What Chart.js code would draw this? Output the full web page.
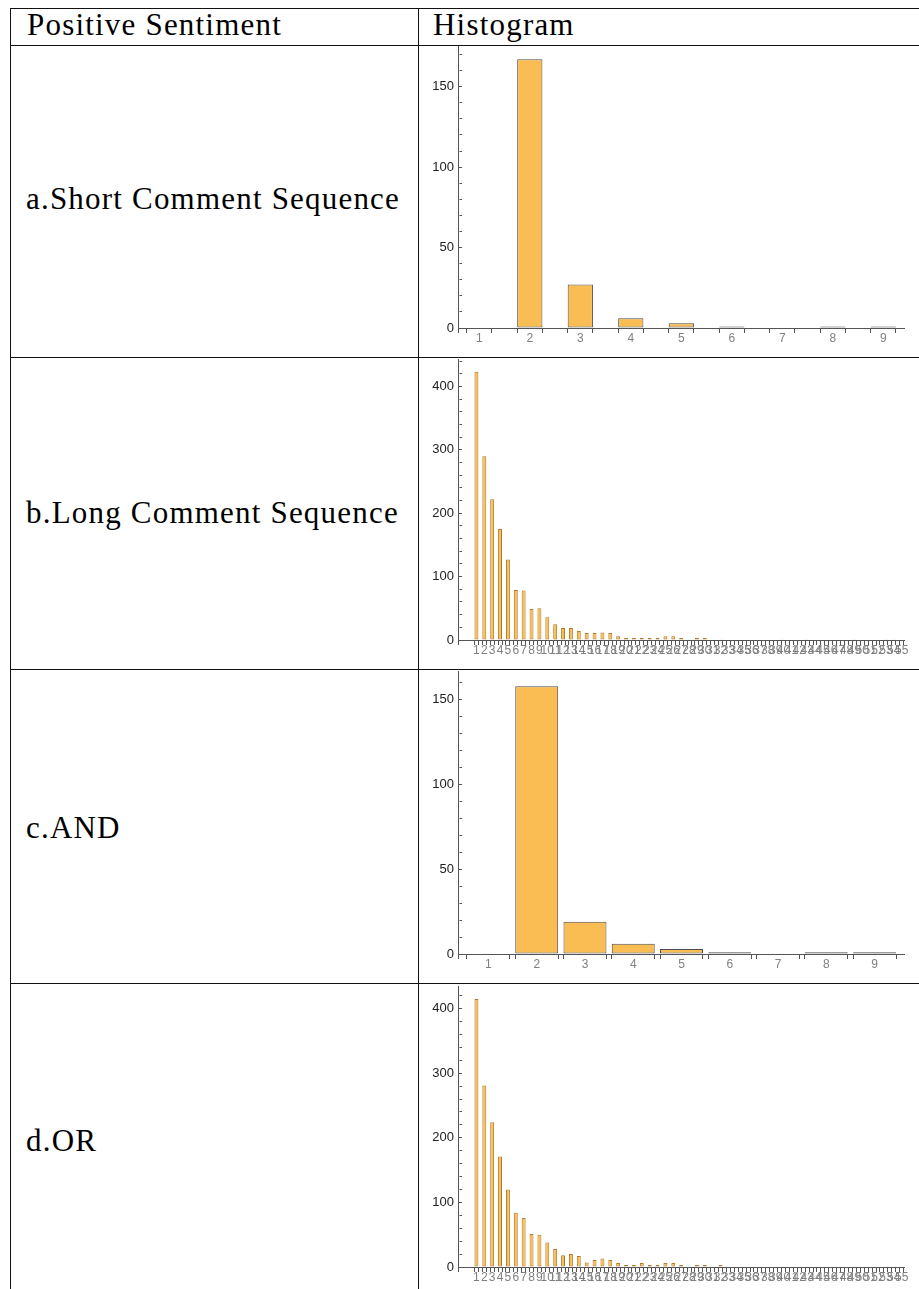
<!DOCTYPE html>
<html lang="en">
<head>
  <meta charset="utf-8"/>
  <title>Positive Sentiment Histograms</title>
  <script src="https://cdn.jsdelivr.net/npm/chart.js"></script>
  <style>
    body { margin: 0; background: #fff; }
    #page { position: relative; width: 919px; height: 1289px; overflow: hidden; }
    .hl { position: absolute; left: 10px; right: 0; height: 1px; background: #111; }
    .vl { position: absolute; top: 8px; bottom: 0; width: 1px; background: #111; }
    .txt {
      position: absolute; white-space: nowrap; color: #000;
      font-family: "Liberation Serif", serif; font-size: 31px; line-height: 31px;
      letter-spacing: 1.2px;
    }
    canvas { position: absolute; left: 420px; }
  </style>
</head>
<body>
<div id="page">
  <!-- table rules -->
  <div class="hl" style="top:8px"></div>
  <div class="hl" style="top:45px"></div>
  <div class="hl" style="top:357px"></div>
  <div class="hl" style="top:669px"></div>
  <div class="hl" style="top:983px"></div>
  <div class="vl" style="left:10px"></div>
  <div class="vl" style="left:418px"></div>

  <div class="txt" style="left:27px; top:9px">Positive Sentiment</div>
  <div class="txt" style="left:433px; top:9px">Histogram</div>
  <div class="txt" style="left:26px; top:183px">a.Short Comment Sequence</div>
  <div class="txt" style="left:26px; top:497px">b.Long Comment Sequence</div>
  <div class="txt" style="left:26px; top:812px">c.AND</div>
  <div class="txt" style="left:26px; top:1125px">d.OR</div>

  <canvas id="chartShort" width="499" height="313" style="top:32px"></canvas>
  <canvas id="chartLong" width="499" height="312" style="top:345px"></canvas>
  <canvas id="chartAnd" width="499" height="314" style="top:657px"></canvas>
  <canvas id="chartOr" width="499" height="312" style="top:972px"></canvas>
</div>

<script>
  // bins and counts for the short histograms
  const shortBins = [1, 2, 3, 4, 5, 6, 7, 8, 9];
  const shortCounts = [0, 167, 27, 6, 3, 1, 0, 1, 1];
  const andCounts = [0, 158, 19, 6, 3, 1, 0, 1, 1];

  // bins and counts for the long histograms
  const longBins = [1, 2, 3, 4, 5, 6, 7, 8, 9, 10, 11, 12, 13, 14, 15, 16, 17, 18, 19, 20,
    21, 22, 23, 24, 25, 26, 27, 28, 29, 30, 31, 32, 33, 34, 35, 36, 37, 38, 39, 40,
    41, 42, 43, 44, 45, 46, 47, 48, 49, 50, 51, 52, 53, 54, 55];
  const longCounts = [423, 290, 222, 175, 127, 79, 78, 49, 50, 36,
    25, 19, 19, 14, 11, 11, 12, 11, 6, 3,
    3, 3, 3, 3, 6, 6, 3, 1, 3, 3,
    0, 1, 0, 0, 0, 0, 0, 0, 0, 1,
    0, 0, 1, 0, 0, 0, 0, 0, 1, 0,
    0, 0, 1, 1, 0];
  const orCounts = [415, 281, 224, 171, 120, 84, 76, 51, 50, 38,
    28, 18, 20, 17, 7, 11, 13, 11, 6, 3,
    3, 6, 3, 3, 6, 6, 3, 1, 3, 3,
    0, 3, 0, 0, 0, 0, 0, 0, 0, 1,
    0, 0, 1, 0, 0, 0, 0, 0, 1, 0,
    0, 0, 1, 1, 0];

  // labelled y ticks
  const shortTicks = [0, 50, 100, 150];
  const longTicks = [0, 100, 200, 300, 400];

  const FILL = '#FABD53';
  const AXIS = '#555555';
  const SANS = '"Liberation Sans", Arial, sans-serif';

  function histogram(id, bins, counts, o) {
    // tick marks sit on both edges of every bar
    const edges = [o.xMin];
    bins.forEach(b => edges.push(b - o.bar / 2, b + o.bar / 2));
    const steps = [];
    for (let v = 0; v <= o.yMax; v += o.minorStep) steps.push(v);

    new Chart(document.getElementById(id), {
      type: 'bar',
      data: {
        datasets: [{
          data: bins.map((b, i) => ({ x: b, y: counts[i] })),
          backgroundColor: FILL,
          borderColor: o.edge,
          borderWidth: 1,
          borderSkipped: false,
          barPercentage: o.bar,
          categoryPercentage: 1,
          xAxisID: 'x',
          yAxisID: 'y'
        }]
      },
      options: {
        responsive: false,
        animation: false,
        events: [],
        layout: { padding: { top: 0, right: 15, left: 0, bottom: 0 } },
        plugins: { legend: { display: false }, tooltip: { enabled: false } },
        scales: {
          xt: {
            type: 'linear', position: 'bottom', weight: 0,
            min: o.xMin, max: o.xMax, offset: false,
            afterBuildTicks: s => { s.ticks = edges.map(v => ({ value: v })); },
            ticks: { display: false },
            grid: { offset: false, drawOnChartArea: false, drawTicks: true, tickLength: 5, tickColor: AXIS, tickWidth: 1 },
            border: { display: true, color: AXIS, width: 1 }
          },
          x: {
            type: 'linear', position: 'bottom', weight: 1,
            min: o.xMin, max: o.xMax, offset: false,
            afterBuildTicks: s => { s.ticks = bins.map(v => ({ value: v })); },
            ticks: {
              autoSkip: false, maxRotation: 0, minRotation: 0, padding: 0,
              color: '#808080', font: { family: SANS, size: 12, lineHeight: 1 },
              callback: v => String(v)
            },
            grid: { display: false, drawTicks: false, offset: false },
            border: { display: false }
          },
          y: {
            type: 'linear', min: 0, max: o.yMax,
            afterBuildTicks: s => { s.ticks = steps.map(v => ({ value: v })); },
            ticks: {
              autoSkip: false, padding: 8, color: '#222', font: { family: SANS, size: 13, lineHeight: 1 },
              callback: v => o.labels.includes(v) ? String(v) : ''
            },
            // ticks point into the plot; unlabelled ones are cut short by the dash
            grid: {
              drawOnChartArea: false, tickLength: -4, tickColor: AXIS,
              tickBorderDash: c => (c.tick && o.labels.includes(c.tick.value)) ? [] : [2.5, 10]
            },
            border: { color: AXIS, width: 1 },
            afterFit: s => { s.width = 38; }
          }
        }
      }
    });
  }

  histogram('chartShort', shortBins, shortCounts,
    { xMin: 0.578, xMax: 9.41, bar: 0.5, yMax: 175, minorStep: 10, labels: shortTicks, edge: '#4d4d4d' });
  histogram('chartLong', longBins, longCounts,
    { xMin: -1.34, xMax: 55.3, bar: 0.5, yMax: 442.4, minorStep: 20, labels: longTicks, edge: '#b07a2a' });
  histogram('chartAnd', shortBins, andCounts,
    { xMin: 0.369, xMax: 9.61, bar: 0.89, yMax: 166.7, minorStep: 10, labels: shortTicks, edge: '#4d4d4d' });
  histogram('chartOr', longBins, orCounts,
    { xMin: -1.34, xMax: 55.3, bar: 0.5, yMax: 434.3, minorStep: 20, labels: longTicks, edge: '#b07a2a' });
</script>
</body>
</html>
